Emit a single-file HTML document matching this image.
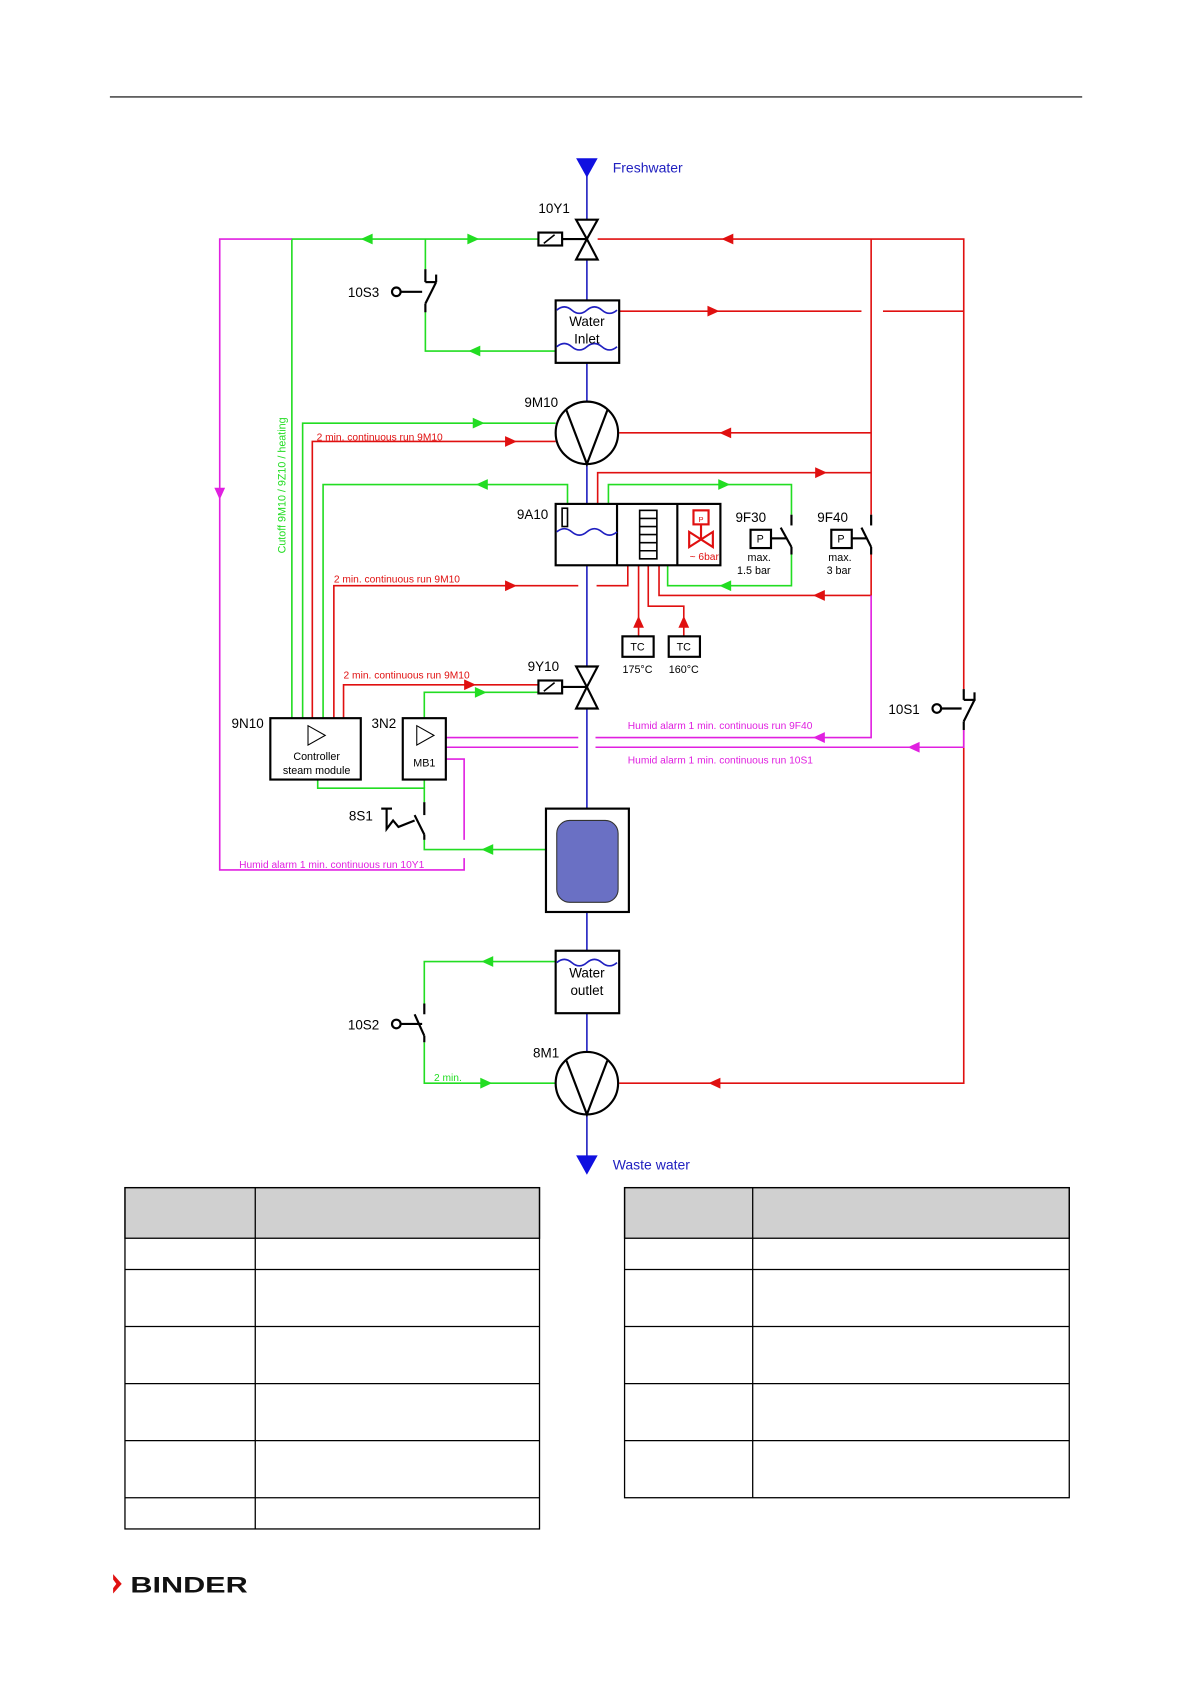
<!DOCTYPE html>
<html><head><meta charset="utf-8"><style>
html,body{margin:0;padding:0;background:#fff}
svg{display:block}
text{font-family:"Liberation Sans",sans-serif}
</style></head><body>
<svg width="1191" height="1684" viewBox="0 0 1106 1564" xmlns="http://www.w3.org/2000/svg">
<defs><path id="a" d="M-6,-5 L5,0 L-6,5Z"/></defs>
<line x1="102" y1="90" x2="1005" y2="90" stroke="#000" stroke-width="1"/>

<line x1="545" y1="160" x2="545" y2="1080" stroke="#2020c0" stroke-width="1.5"/>
<polygon points="535,147 555,147 545,165" fill="#1010e0"/>
<text x="569" y="160" font-size="13" fill="#2020c0">Freshwater</text>
<polygon points="535,1073 555,1073 545,1091" fill="#1010e0"/>
<text x="569" y="1086" font-size="13" fill="#2020c0">Waste water</text>

<g fill="none" stroke-width="1.5">
<g stroke="#22dd22">
<polyline points="271,667 271,222 500,222"/>
<polyline points="395,222 395,250"/>
<polyline points="395,288 395,326 516,326"/>
<polyline points="281,667 281,393 516,393"/>
<polyline points="300,667 300,450 527,450 527,470"/>
<polyline points="565,470 565,450 735,450 735,478"/>
<polyline points="620,525 620,544 735,544 735,515"/>
<polyline points="394,667 394,643 500,643"/>
<polyline points="295,724 295,732 394,732 394,745"/>
<polyline points="394,724 394,732"/>
<polyline points="394,780 394,789 507,789"/>
<polyline points="516,893 394,893 394,932"/>
<polyline points="394,968 394,1006 516,1006"/>
</g>
<g stroke="#e01010">
<polyline points="555,222 895,222 895,640"/>
<polyline points="895,678 895,1006 575,1006"/>
<polyline points="809,222 809,478"/>
<polyline points="809,515 809,553 612,553 612,525"/>
<polyline points="575,289 800,289"/>
<polyline points="820,289 895,289"/>
<polyline points="575,402 809,402"/>
<polyline points="555,468 555,439 809,439"/>
<polyline points="290,667 290,410 516,410"/>
<polyline points="310,667 310,544 537,544"/>
<polyline points="554,544 583,544 583,525"/>
<polyline points="319,667 319,636 500,636"/>
<polyline points="593,525 593,591"/>
<polyline points="602,525 602,563 635,563 635,591"/>
</g>
<g stroke="#e020e0">
<polyline points="271,222 204,222 204,808 431,808 431,797"/>
<polyline points="414,705 431,705 431,780"/>
<polyline points="414,685 537,685"/>
<polyline points="553,685 809,685 809,553"/>
<polyline points="414,694 537,694"/>
<polyline points="553,694 895,694 895,678"/>
</g>
</g>

<g fill="#22dd22">
<use href="#a" transform="translate(340,222) rotate(180)"/>
<use href="#a" transform="translate(440,222)"/>
<use href="#a" transform="translate(440,326) rotate(180)"/>
<use href="#a" transform="translate(445,393)"/>
<use href="#a" transform="translate(447,450) rotate(180)"/>
<use href="#a" transform="translate(673,450)"/>
<use href="#a" transform="translate(673,544) rotate(180)"/>
<use href="#a" transform="translate(447,643)"/>
<use href="#a" transform="translate(452,789) rotate(180)"/>
<use href="#a" transform="translate(452,893) rotate(180)"/>
<use href="#a" transform="translate(452,1006)"/>
</g>
<g fill="#e01010">
<use href="#a" transform="translate(675,222) rotate(180)"/>
<use href="#a" transform="translate(663,289)"/>
<use href="#a" transform="translate(673,402) rotate(180)"/>
<use href="#a" transform="translate(475,410)"/>
<use href="#a" transform="translate(763,439)"/>
<use href="#a" transform="translate(475,544)"/>
<use href="#a" transform="translate(760,553) rotate(180)"/>
<use href="#a" transform="translate(437,636)"/>
<use href="#a" transform="translate(593,577) rotate(-90)"/>
<use href="#a" transform="translate(635,577) rotate(-90)"/>
<use href="#a" transform="translate(663,1006) rotate(180)"/>
</g>
<g fill="#e020e0">
<use href="#a" transform="translate(204,459) rotate(90)"/>
<use href="#a" transform="translate(760,685) rotate(180)"/>
<use href="#a" transform="translate(848,694) rotate(180)"/>
</g>

<g font-size="9.5" fill="#e01010">
<text x="294" y="409">2 min. continuous run 9M10</text>
<text x="310" y="541">2 min. continuous run 9M10</text>
<text x="319" y="630">2 min. continuous run 9M10</text>
</g>
<g font-size="9.5" fill="#e020e0">
<text x="583" y="677">Humid alarm 1 min. continuous run 9F40</text>
<text x="583" y="709">Humid alarm 1 min. continuous run 10S1</text>
<text x="222" y="806">Humid alarm 1 min. continuous run 10Y1</text>
</g>
<text x="403" y="1004" font-size="9.5" fill="#22dd22">2 min.</text>
<text transform="translate(265,514) rotate(-90)" font-size="10" fill="#22dd22">Cutoff  9M10 / 9Z10 / heating</text>

<g stroke="#000" stroke-width="2" fill="#fff">
<polygon points="535,204 555,204 545,222"/>
<polygon points="535,241 555,241 545,222"/>
<rect x="500" y="216" width="22" height="12"/>
<line x1="522" y1="222" x2="545" y2="222"/>
<polygon points="535,619 555,619 545,638"/>
<polygon points="535,658 555,658 545,638"/>
<rect x="500" y="632" width="22" height="12"/>
<line x1="522" y1="638" x2="545" y2="638"/>
<rect x="516" y="279" width="59" height="58"/>
<circle cx="545" cy="402" r="29"/>
<circle cx="545" cy="1006" r="29"/>
<rect x="516" y="468" width="153" height="57"/>
<rect x="516" y="883" width="59" height="58"/>
<rect x="507" y="751" width="77" height="96"/>
<rect x="251" y="667" width="84" height="57"/>
<rect x="374" y="667" width="40" height="57"/>
<rect x="578" y="591" width="29" height="19"/>
<rect x="621" y="591" width="29" height="19"/>
<rect x="697" y="492" width="19" height="17"/>
<rect x="772" y="492" width="19" height="17"/>
</g>
<g stroke="#000" stroke-width="2" fill="none">
<line x1="505" y1="226" x2="515" y2="218" stroke-width="1.5"/>
<line x1="505" y1="642" x2="515" y2="634" stroke-width="1.5"/>
<polyline points="526,381 545,431 564,381"/>
<polyline points="526,985 545,1035 564,985"/>
<line x1="573" y1="468" x2="573" y2="525"/>
<line x1="629" y1="468" x2="629" y2="525"/>
<rect x="594" y="474" width="16" height="45" stroke-width="1.5"/>
<line x1="594" y1="481.5" x2="610" y2="481.5" stroke-width="1.5"/>
<line x1="594" y1="489" x2="610" y2="489" stroke-width="1.5"/>
<line x1="594" y1="496.5" x2="610" y2="496.5" stroke-width="1.5"/>
<line x1="594" y1="504" x2="610" y2="504" stroke-width="1.5"/>
<line x1="594" y1="511.5" x2="610" y2="511.5" stroke-width="1.5"/>
<rect x="522" y="472" width="5" height="17" stroke-width="1.5"/>
<polygon points="286,674 302,683 286,692" stroke-width="1"/>
<polygon points="387,674 403,683 387,692" stroke-width="1"/>
<circle cx="368" cy="271" r="4"/><line x1="372" y1="271" x2="392" y2="271"/>
<line x1="395" y1="250" x2="395" y2="262"/><line x1="395" y1="262" x2="405" y2="262"/><line x1="405" y1="255" x2="405" y2="262"/>
<line x1="405" y1="262" x2="395" y2="282"/><line x1="395" y1="282" x2="395" y2="290"/>
<circle cx="870" cy="658" r="4"/><line x1="874" y1="658" x2="893" y2="658"/>
<line x1="895" y1="640" x2="895" y2="650"/><line x1="895" y1="650" x2="906" y2="650"/><line x1="905" y1="643" x2="905" y2="650"/>
<line x1="905" y1="650" x2="895" y2="670"/><line x1="895" y1="670" x2="895" y2="678"/>
<circle cx="368" cy="951" r="4"/><line x1="372" y1="951" x2="392" y2="951"/>
<line x1="394" y1="932" x2="394" y2="942"/><line x1="385" y1="942" x2="394" y2="962"/><line x1="394" y1="962" x2="394" y2="968"/>
<line x1="735" y1="478" x2="735" y2="488"/><line x1="716" y1="500" x2="730" y2="500"/><line x1="725" y1="490" x2="735" y2="508"/><line x1="735" y1="508" x2="735" y2="515"/>
<line x1="809" y1="478" x2="809" y2="488"/><line x1="791" y1="500" x2="805" y2="500"/><line x1="800" y1="490" x2="809" y2="508"/><line x1="809" y1="508" x2="809" y2="515"/>
<line x1="394" y1="745" x2="394" y2="757"/><line x1="385" y1="757" x2="394" y2="775"/><line x1="394" y1="775" x2="394" y2="780"/>
<polyline points="354,751 364,751" /><polyline points="359,751 359,770 365,762 370,768 385,762"/>
</g>
<rect x="517" y="762" width="57" height="76" rx="12" fill="#6a70c4" stroke="#333" stroke-width="1"/>
<g stroke="#2020c0" stroke-width="1.5" fill="none">
<path d="M517,288 q7,-6 14,0 t14,0 t14,0 t14,0"/>
<path d="M517,322 q7,-6 14,0 t14,0 t14,0 t14,0"/>
<path d="M517,894 q7,-6 14,0 t14,0 t14,0 t14,0"/>
<path d="M517,494 q7,-6 14,0 t14,0 t14,0 t14,0"/>
</g>
<g stroke="#e01010" stroke-width="2" fill="none">
<rect x="644" y="474" width="14" height="13"/>
<line x1="651" y1="487" x2="651" y2="501"/>
<polygon points="640,494 662,508 662,494 640,508"/>
</g>
<text x="651" y="485" font-size="7" fill="#e01010" text-anchor="middle">P</text>
<text x="654" y="520" font-size="9.5" fill="#e01010" text-anchor="middle">~ 6bar</text>

<g font-size="12.5" fill="#000">
<text x="500" y="198">10Y1</text>
<text x="323" y="276">10S3</text>
<text x="487" y="378">9M10</text>
<text x="480" y="482">9A10</text>
<text x="683" y="485">9F30</text>
<text x="759" y="485">9F40</text>
<text x="490" y="623">9Y10</text>
<text x="215" y="676">9N10</text>
<text x="345" y="676">3N2</text>
<text x="825" y="663">10S1</text>
<text x="324" y="762">8S1</text>
<text x="323" y="956">10S2</text>
<text x="495" y="982">8M1</text>
</g>
<g font-size="12.5" fill="#000" text-anchor="middle">
<text x="545" y="303">Water</text><text x="545" y="319">Inlet</text>
<text x="545" y="908">Water</text><text x="545" y="924">outlet</text>
</g>
<g font-size="10" fill="#000" text-anchor="middle">
<text x="706" y="504">P</text><text x="781" y="504">P</text>
<text x="705" y="521">max.</text><text x="700" y="533">1.5 bar</text>
<text x="780" y="521">max.</text><text x="779" y="533">3 bar</text>
<text x="592" y="604">TC</text><text x="635" y="604">TC</text>
<text x="592" y="625">175°C</text><text x="635" y="625">160°C</text>
<text x="294" y="706">Controller</text><text x="294" y="719">steam module</text>
<text x="394" y="712">MB1</text>
</g>

<g stroke="#000" stroke-width="1.2">
<rect x="116" y="1103" width="385" height="47" fill="#d0d0d0"/>
<rect x="116" y="1103" width="385" height="317" fill="none"/>
<line x1="237" y1="1103" x2="237" y2="1420"/>
<line x1="116" y1="1179" x2="501" y2="1179"/>
<line x1="116" y1="1232" x2="501" y2="1232"/>
<line x1="116" y1="1285" x2="501" y2="1285"/>
<line x1="116" y1="1338" x2="501" y2="1338"/>
<line x1="116" y1="1391" x2="501" y2="1391"/>
<rect x="580" y="1103" width="413" height="47" fill="#d0d0d0"/>
<rect x="580" y="1103" width="413" height="288" fill="none"/>
<line x1="699" y1="1103" x2="699" y2="1391"/>
<line x1="580" y1="1179" x2="993" y2="1179"/>
<line x1="580" y1="1232" x2="993" y2="1232"/>
<line x1="580" y1="1285" x2="993" y2="1285"/>
<line x1="580" y1="1338" x2="993" y2="1338"/>
</g>
<polygon points="105,1462 113,1471 105,1480 105,1475 108,1471 105,1467" fill="#e01010"/>
<text x="121" y="1479" font-size="21" font-weight="bold" fill="#111" textLength="109" lengthAdjust="spacingAndGlyphs">BINDER</text>
</svg>
</body></html>
